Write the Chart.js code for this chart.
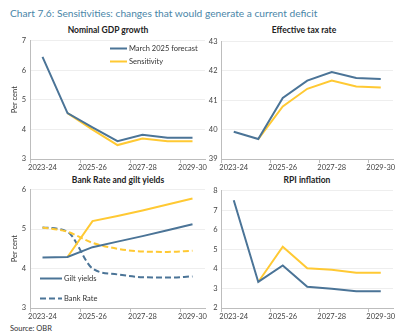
<!DOCTYPE html>
<html>
<head>
<meta charset="utf-8">
<script src="https://cdn.jsdelivr.net/npm/chart.js@4.4.1/dist/chart.umd.min.js"></script>
<style>
body { margin: 0; width: 400px; height: 336px; background: #fff; position: relative; overflow: hidden; font-family: Lato, sans-serif; }
.txt { position: absolute; white-space: nowrap; }
#title { left: 10px; top: 5px; font-size: 10.2px; line-height: 16px; color: #4A86A8; }
.ptitle { position: absolute; white-space: nowrap; font-weight: bold; font-size: 8.5px; line-height: 10px; color: #222; transform: translateX(-50%); }
#source { left: 10px; top: 324px; font-size: 7.5px; line-height: 10px; color: #333; }
canvas { position: absolute; }
</style>
</head>
<body>
<div id="title" class="txt">Chart 7.6: Sensitivities: changes that would generate a current deficit</div>
<div class="ptitle" style="left:108px; top:25px">Nominal GDP growth</div>
<div class="ptitle" style="left:304px; top:25px">Effective tax rate</div>
<div class="ptitle" style="left:118px; top:175px">Bank Rate and gilt yields</div>
<div class="ptitle" style="left:307px; top:175px">RPI inflation</div>
<canvas id="gdpChart" width="210" height="141" style="left:0; top:32px"></canvas>
<canvas id="taxChart" width="200" height="140" style="left:200px; top:33px"></canvas>
<canvas id="bankChart" width="210" height="141" style="left:0; top:181px"></canvas>
<canvas id="rpiChart" width="200" height="140" style="left:200px; top:182px"></canvas>
<div id="source" class="txt">Source: OBR</div>
<script>
// Data
const years = ['2023-24', '2024-25', '2025-26', '2026-27', '2027-28', '2028-29', '2029-30'];

const gdpForecast = [6.45, 4.55, 4.07, 3.6, 3.82, 3.72, 3.72];
const gdpSensitivity = [null, 4.55, 3.99, 3.47, 3.69, 3.6, 3.6];

const taxForecast = [39.93, 39.68, 41.08, 41.67, 41.96, 41.76, 41.72];
const taxSensitivity = [null, 39.68, 40.79, 41.39, 41.67, 41.47, 41.43];

const giltForecast = [4.28, 4.29, 4.54, 4.68, 4.82, 4.97, 5.12];
const giltSensitivity = [null, 4.29, 5.2, 5.33, 5.47, 5.62, 5.77];
const bankForecast = [5.04, 4.93, 4.0, 3.85, 3.78, 3.77, 3.8];
const bankSensitivity = [5.04, 4.93, 4.65, 4.5, 4.43, 4.42, 4.45];

const rpiForecast = [7.5, 3.33, 4.17, 3.08, 2.98, 2.85, 2.85];
const rpiSensitivity = [null, 3.33, 5.13, 4.03, 3.95, 3.8, 3.8];

const BLUE = '#4B7497';
const YELLOW = '#FFC933';
const AXIS = '#bdbdbd';
const GRID = '#eeeeee';
const TICK_FONT = { family: 'Lato', size: 7.5 };

// small legend drawn inside the plot area
const inlineLegend = {
    id: 'inlineLegend',
    afterDatasetsDraw(chart, args, opts) {
        if (!opts.items) return;
        const ctx = chart.ctx;
        const area = chart.chartArea;
        ctx.save();
        ctx.font = '7.5px Lato';
        ctx.textBaseline = 'middle';
        opts.items.forEach(item => {
            const ds = chart.data.datasets[item.dataset];
            const x = area.left + item.dx;
            const y = area.top + item.dy;
            ctx.strokeStyle = ds.borderColor;
            ctx.lineWidth = ds.borderWidth;
            ctx.setLineDash(ds.borderDash || []);
            ctx.beginPath();
            ctx.moveTo(x, y);
            ctx.lineTo(x + item.len, y);
            ctx.stroke();
            ctx.setLineDash([]);
            ctx.fillStyle = '#333';
            ctx.fillText(ds.label, x + item.len + 2, y);
        });
        ctx.restore();
    }
};

function line(label, data, color, extra) {
    return Object.assign({
        label: label,
        data: data,
        borderColor: color,
        backgroundColor: color,
        borderWidth: 2,
        pointRadius: 0,
        tension: 0,
        fill: false
    }, extra || {});
}

function makeChart(id, datasets, yMin, yMax, yWidth, showTitle, padRight, legendItems) {
    const ctx = document.getElementById(id).getContext('2d');
    return new Chart(ctx, {
        type: 'line',
        data: { labels: years, datasets: datasets },
        plugins: [inlineLegend],
        options: {
            responsive: false,
            animation: false,
            layout: { padding: { top: 6, right: padRight, left: 0, bottom: 0 } },
            plugins: {
                legend: { display: false },
                tooltip: { enabled: false },
                inlineLegend: { items: legendItems }
            },
            scales: {
                x: {
                    offset: true,
                    grid: {
                        offset: true,
                        drawOnChartArea: false,
                        tickLength: 4,
                        tickColor: c => (c.index % 2 === 0 ? AXIS : 'rgba(0,0,0,0)')
                    },
                    border: { color: AXIS },
                    ticks: {
                        autoSkip: false,
                        maxRotation: 0,
                        padding: 0,
                        font: TICK_FONT,
                        color: '#444',
                        callback: (v, i) => (i % 2 === 0 ? years[i] : '')
                    },
                    afterFit: s => { s.height = 14; }
                },
                y: {
                    min: yMin,
                    max: yMax,
                    ticks: { stepSize: 1, padding: 4, font: TICK_FONT, color: '#444' },
                    grid: { color: GRID, drawTicks: false },
                    border: { color: AXIS },
                    title: {
                        display: showTitle,
                        text: 'Per cent',
                        font: { family: 'Lato', size: 7.5 },
                        color: '#333',
                        padding: { top: 10, bottom: 0 }
                    },
                    afterFit: s => { s.width = yWidth; }
                }
            }
        }
    });
}

makeChart('gdpChart', [
    line('March 2025 forecast', gdpForecast, BLUE),
    line('Sensitivity', gdpSensitivity, YELLOW)
], 3, 7, 30, true, 5, [
    { dataset: 0, dx: 80, dy: 8, len: 17 },
    { dataset: 1, dx: 80, dy: 21, len: 17 }
]);

makeChart('taxChart', [
    line('March 2025 forecast', taxForecast, BLUE),
    line('Sensitivity', taxSensitivity, YELLOW)
], 39, 43, 21.5, false, 7, null);

makeChart('bankChart', [
    line('Gilt yields', giltForecast, BLUE, { order: 1 }),
    line('Bank Rate', bankForecast, BLUE, { order: 3, borderDash: [6, 3], cubicInterpolationMode: 'monotone' }),
    line('Gilt yields sensitivity', giltSensitivity, YELLOW, { order: 2 }),
    line('Bank Rate sensitivity', bankSensitivity, YELLOW, { order: 2, borderDash: [6, 3], cubicInterpolationMode: 'monotone' })
], 3, 6, 30, true, 5, [
    { dataset: 0, dx: 10, dy: 89, len: 22 },
    { dataset: 1, dx: 10, dy: 109, len: 22 }
]);

makeChart('rpiChart', [
    line('March 2025 forecast', rpiForecast, BLUE),
    line('Sensitivity', rpiSensitivity, YELLOW)
], 2, 8, 21.5, false, 7, null);
</script>
</body>
</html>
